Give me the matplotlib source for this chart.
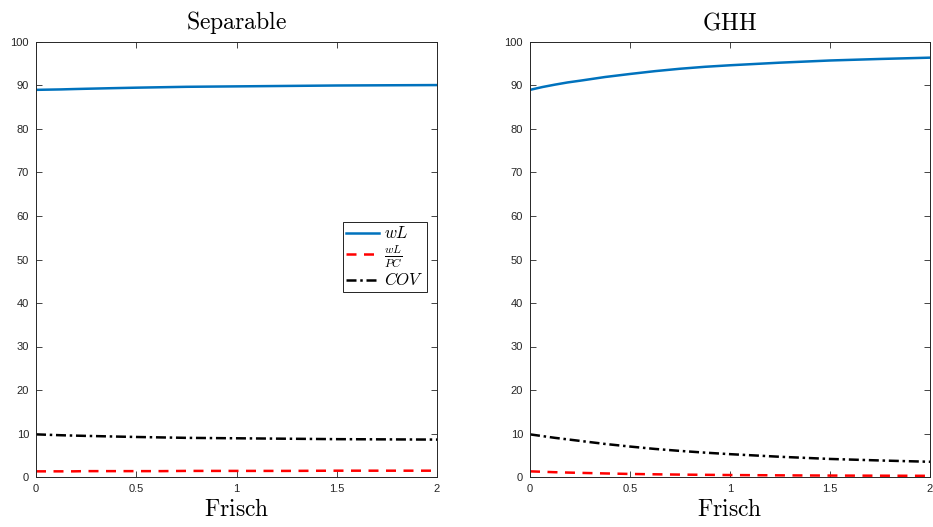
import matplotlib
matplotlib.use("Agg")
import matplotlib.pyplot as plt

plt.rcParams['mathtext.fontset'] = 'cm'
plt.rcParams['font.family'] = ['Liberation Sans', 'DejaVu Sans']

frisch = [0, 0.0625, 0.125, 0.1875, 0.25, 0.375, 0.5, 0.625, 0.75, 0.875, 1.0, 1.25, 1.5, 1.75, 2.0]

sep_wL = [89.0, 89.05, 89.1, 89.18, 89.25, 89.38, 89.5, 89.6, 89.7, 89.75, 89.8, 89.9, 90.0, 90.05, 90.1]
sep_wLPC = [1.3, 1.3, 1.3, 1.3, 1.35, 1.35, 1.35, 1.35, 1.4, 1.4, 1.4, 1.4, 1.45, 1.45, 1.45]
sep_COV = [9.8, 9.7, 9.6, 9.52, 9.45, 9.32, 9.2, 9.1, 9.0, 8.95, 8.9, 8.8, 8.7, 8.65, 8.6]

ghh_wL = [89.0, 89.65, 90.2, 90.7, 91.1, 91.95, 92.65, 93.3, 93.85, 94.3, 94.65, 95.25, 95.75, 96.1, 96.4]
ghh_wLPC = [1.3, 1.2, 1.1, 1.02, 0.95, 0.82, 0.7, 0.62, 0.55, 0.5, 0.45, 0.38, 0.33, 0.3, 0.27]
ghh_COV = [9.8, 9.4, 9.0, 8.65, 8.3, 7.6, 7.0, 6.45, 6.0, 5.6, 5.25, 4.65, 4.15, 3.8, 3.5]

titles = ['Separable', 'GHH']
xticks = [0, 0.5, 1, 1.5, 2]
xticklabels = ['0', '0.5', '1', '1.5', '2']
yticks = list(range(0, 101, 10))

fig = plt.figure(figsize=(9.33, 5.27), dpi=100)
ax1 = fig.add_axes([36/933, 50/527, 401/933, 435/527])
ax2 = fig.add_axes([530/933, 50/527, 400/933, 435/527])

axc = '#262626'
for ax, title, wL, wLPC, COV in [(ax1, titles[0], sep_wL, sep_wLPC, sep_COV),
                                 (ax2, titles[1], ghh_wL, ghh_wLPC, ghh_COV)]:
    ax.plot(frisch, wL, color='#0072BD', lw=1.8, label=r'$wL$')
    ax.plot(frisch, wLPC, color='#FF0000', lw=1.8, ls=(0, (4, 3)), label=r'$\frac{wL}{PC}$')
    ax.plot(frisch, COV, color='black', lw=1.8, ls=(0, (4, 1.5, 1, 1.5)), label=r'$COV$')
    ax.set_xlim(0, 2)
    ax.set_ylim(0, 100)
    ax.set_xticks(xticks)
    ax.set_xticklabels(xticklabels)
    ax.set_yticks(yticks)
    ax.tick_params(direction='in', top=True, right=True, labelsize=8,
                   color=axc, labelcolor=axc, length=4, width=0.6, pad=5)
    for s in ax.spines.values():
        s.set_color(axc)
        s.set_linewidth(0.7)
    ax.set_title(r'$\mathrm{%s}$' % title, fontsize=17, pad=9)
    ax.set_xlabel(r'$\mathrm{Frisch}$', fontsize=17, labelpad=4)

leg = ax1.legend(loc='upper right', bbox_to_anchor=(0.975, 0.586), borderaxespad=0,
                 fancybox=False, framealpha=1, edgecolor='black', fontsize=12,
                 handlelength=2.0, handletextpad=0.3, labelspacing=0.1,
                 borderpad=0.2)
leg.get_frame().set_linewidth(0.6)

fig.savefig('out.png', dpi=100)
